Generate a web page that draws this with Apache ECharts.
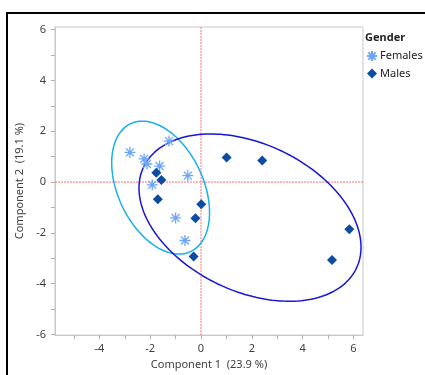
<!DOCTYPE html>
<html>
<head>
<meta charset="utf-8">
<script src="https://cdn.jsdelivr.net/npm/echarts@6/dist/echarts.min.js"></script>
<style>
  html, body { margin: 0; padding: 0; background: #fff; }
  #main { width: 425px; height: 375px; }
</style>
</head>
<body>
<div id="main"></div>
<script>
// principal component scores
var females = [
  [-2.80, 1.17], [-2.24, 0.91], [-2.13, 0.71], [-1.63, 0.63], [-1.26, 1.61],
  [-0.52, 0.25], [-1.92, -0.11], [-1.00, -1.41], [-0.63, -2.30]
];
var males = [
  [-1.76, 0.37], [-1.56, 0.08], [-1.70, -0.68], [0.01, -0.87], [-0.22, -1.42],
  [-0.29, -2.93], [1.01, 0.97], [2.41, 0.85], [5.84, -1.86], [5.16, -3.07]
];
// density ellipses: centre x, centre y, semi-major, semi-minor, angle (deg)
var femaleEllipse = [-1.59, -0.22, 2.78, 1.68, -64.8];
var maleEllipse = [1.93, -1.40, 4.64, 2.90, -25.4];

var xRange = [-5.75, 6.38];
var yRange = [-6.022, 6.1];
var xLabels = [-4, -2, 0, 2, 4, 6];
var yLabels = [-6, -4, -2, 0, 2, 4, 6];
var xTicks = [-5, -4, -3, -2, -1, 0, 1, 2, 3, 4, 5, 6];
var yTicks = [-6, -5, -4, -3, -2, -1, 0, 1, 2, 3, 4, 5, 6];

function ellipsePoints(p) {
  var cx = p[0], cy = p[1], a = p[2], b = p[3];
  var t = p[4] * Math.PI / 180;
  var pts = [];
  for (var i = 0; i <= 180; i++) {
    var th = 2 * Math.PI * i / 180;
    var ex = a * Math.cos(th), ey = b * Math.sin(th);
    pts.push([cx + ex * Math.cos(t) - ey * Math.sin(t), cy + ex * Math.sin(t) + ey * Math.cos(t)]);
  }
  return pts;
}

var asterisk = 'path://M0,-5L0,5M-5,0L5,0M-3.6,-3.6L3.6,3.6M-3.6,3.6L3.6,-3.6';
var font = 'Noto Sans';
var textColor = '#404040';
var refColor = '#ff7070';

// dotted zero lines
function refLine(name, pts) {
  return {
    name: name,
    type: 'line',
    data: pts,
    showSymbol: false,
    silent: true,
    lineStyle: { color: refColor, type: [2, 1], width: 1 },
    itemStyle: { color: refColor },
    z: 0
  };
}

var chart = echarts.init(document.getElementById('main'), null, { renderer: 'canvas' });

var option = {
  backgroundColor: '#fff',
  animation: false,
  textStyle: { fontFamily: font },
  graphic: [{
    type: 'rect',
    shape: { x: 7, y: 13, width: 600, height: 600 },
    style: { fill: 'none', stroke: '#000', lineWidth: 2 },
    silent: true
  }],
  title: {
    text: 'Gender',
    left: 365,
    top: 32,
    padding: 0,
    textStyle: { fontFamily: font, fontSize: 11, fontWeight: 'bold', color: '#222' }
  },
  legend: {
    data: ['Females', 'Males'],
    orient: 'vertical',
    left: 366,
    top: 50,
    padding: 0,
    itemWidth: 10,
    itemHeight: 10,
    itemGap: 6,
    textStyle: { fontFamily: font, fontSize: 11, color: '#222', padding: [0, 0, 0, -2] }
  },
  grid: {
    left: 55, top: 27, right: 62, bottom: 39,
    show: true, borderColor: '#c8c8c8', borderWidth: 1
  },
  xAxis: {
    type: 'value',
    min: xRange[0],
    max: xRange[1],
    name: 'Component 1  (23.9 %)',
    nameLocation: 'middle',
    nameGap: 22,
    nameTextStyle: { fontFamily: font, fontSize: 11, color: textColor },
    splitLine: { show: false },
    axisLine: { onZero: false, lineStyle: { color: '#c8c8c8' } },
    axisTick: { customValues: xTicks, length: 4, lineStyle: { color: '#b0b0b0' } },
    axisLabel: { customValues: xLabels, margin: 8, fontFamily: font, fontSize: 11, color: textColor }
  },
  yAxis: {
    type: 'value',
    min: yRange[0],
    max: yRange[1],
    name: 'Component 2  (19.1 %)',
    nameLocation: 'middle',
    nameGap: 30,
    nameTextStyle: { fontFamily: font, fontSize: 11, color: textColor },
    splitLine: { show: false },
    axisLine: { onZero: false, lineStyle: { color: '#c8c8c8' } },
    axisTick: { customValues: yTicks, length: 4, lineStyle: { color: '#b0b0b0' } },
    axisLabel: { customValues: yLabels, margin: 9, fontFamily: font, fontSize: 11, color: textColor }
  },
  series: [
    refLine('xZero', [[0, yRange[0]], [0, yRange[1]]]),
    refLine('yZero', [[xRange[0], 0], [xRange[1], 0]]),
    {
      name: 'femaleEllipse',
      type: 'line',
      data: ellipsePoints(femaleEllipse),
      showSymbol: false,
      silent: true,
      lineStyle: { color: '#19b0e8', width: 1.5 },
      itemStyle: { color: '#19b0e8' },
      z: 1
    },
    {
      name: 'maleEllipse',
      type: 'line',
      data: ellipsePoints(maleEllipse),
      showSymbol: false,
      silent: true,
      lineStyle: { color: '#1616d6', width: 1.5 },
      itemStyle: { color: '#1616d6' },
      z: 2
    },
    {
      name: 'Females',
      type: 'scatter',
      data: females,
      symbol: asterisk,
      symbolSize: 11,
      itemStyle: { color: '#6aa6fb', borderColor: '#6aa6fb', borderWidth: 1.3, opacity: 1 },
      z: 3
    },
    {
      name: 'Males',
      type: 'scatter',
      data: males,
      symbol: 'diamond',
      symbolSize: 10,
      itemStyle: { color: '#0c4ca2', opacity: 1 },
      z: 4
    }
  ]
};

chart.setOption(option);
</script>
</body>
</html>
